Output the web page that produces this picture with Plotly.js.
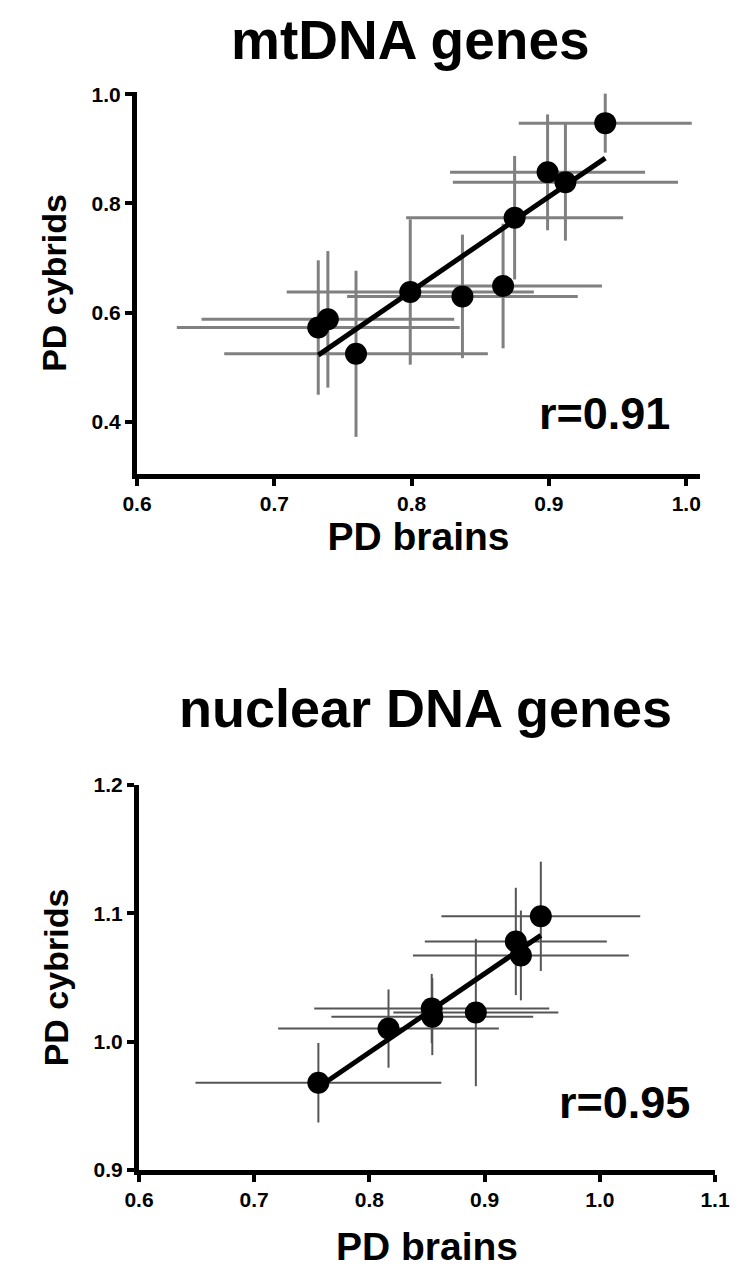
<!DOCTYPE html>
<html>
<head>
<meta charset="utf-8">
<script src="https://cdn.plot.ly/plotly-3.0.1.min.js"></script>
<style>html,body{margin:0;padding:0;background:#fff;}#chart{width:750px;height:1284px;}</style>
</head>
<body>
<div id="chart"></div>
<script>
// ---- mtDNA genes (top panel) ----
var mtBrains   = [0.732, 0.739, 0.7595, 0.799, 0.837, 0.8666, 0.875, 0.899, 0.912, 0.941];
var mtCybrids  = [0.573, 0.588, 0.525, 0.638, 0.630, 0.649, 0.774, 0.857, 0.839, 0.947];
var mtBrainsErr  = [0.103, 0.092, 0.096, 0.090, 0.084, 0.072, 0.079, 0.071, 0.082, 0.063];
var mtCybridsErr = [0.123, 0.125, 0.152, 0.133, 0.113, 0.114, 0.113, 0.106, 0.107, 0.054];
var mtR = "r=0.91";

// ---- nuclear DNA genes (bottom panel) ----
var nuBrains   = [0.7557, 0.8166, 0.8541, 0.8546, 0.8924, 0.9271, 0.9315, 0.9488];
var nuCybrids  = [0.968, 1.0102, 1.0258, 1.0195, 1.0227, 1.0781, 1.0672, 1.0977];
var nuBrainsErr  = [0.1067, 0.0958, 0.102, 0.0876, 0.0716, 0.079, 0.0937, 0.0863];
var nuCybridsErr = [0.031, 0.0305, 0.027, 0.030, 0.0574, 0.0418, 0.035, 0.0426];
var nuR = "r=0.95";

var topTicksX = [0.6, 0.7, 0.8, 0.9, 1.0];
var topTicksY = [0.4, 0.6, 0.8, 1.0];
var botTicksX = [0.6, 0.7, 0.8, 0.9, 1.0, 1.1];
var botTicksY = [0.9, 1.0, 1.1, 1.2];

function fitLine(xs, ys) {
  var n = xs.length, mx = 0, my = 0;
  for (var i = 0; i < n; i++) { mx += xs[i]; my += ys[i]; }
  mx /= n; my /= n;
  var sxy = 0, sxx = 0;
  for (var j = 0; j < n; j++) { sxy += (xs[j]-mx)*(ys[j]-my); sxx += (xs[j]-mx)*(xs[j]-mx); }
  var b = sxy / sxx, a = my - b*mx;
  var x0 = Math.min.apply(null, xs), x1 = Math.max.apply(null, xs);
  return {x: [x0, x1], y: [a + b*x0, a + b*x1]};
}
function fmt(v){ return '<b>' + v.toFixed(1) + '</b>'; }

var FONT = "Liberation Sans, Arial, Helvetica, sans-serif";
var mtFit = fitLine(mtBrains, mtCybrids);
var nuFit = fitLine(nuBrains, nuCybrids);

var traces = [
  {x: mtBrains, y: mtCybrids, xaxis: 'x', yaxis: 'y', type: 'scatter', mode: 'markers',
   marker: {color: '#000', size: 22},
   error_x: {type: 'data', array: mtBrainsErr, visible: true, color: '#808080', thickness: 3, width: 0},
   error_y: {type: 'data', array: mtCybridsErr, visible: true, color: '#808080', thickness: 3, width: 0},
   hoverinfo: 'x+y', showlegend: false},
  {x: mtFit.x, y: mtFit.y, xaxis: 'x', yaxis: 'y', type: 'scatter', mode: 'lines',
   line: {color: '#000', width: 5}, showlegend: false, hoverinfo: 'skip'},
  {x: nuBrains, y: nuCybrids, xaxis: 'x2', yaxis: 'y2', type: 'scatter', mode: 'markers',
   marker: {color: '#000', size: 22},
   error_x: {type: 'data', array: nuBrainsErr, visible: true, color: '#555', thickness: 2, width: 0},
   error_y: {type: 'data', array: nuCybridsErr, visible: true, color: '#555', thickness: 2, width: 0},
   hoverinfo: 'x+y', showlegend: false},
  {x: nuFit.x, y: nuFit.y, xaxis: 'x2', yaxis: 'y2', type: 'scatter', mode: 'lines',
   line: {color: '#000', width: 5}, showlegend: false, hoverinfo: 'skip'}
];

function axis(extra) {
  var base = {
    showline: true, linecolor: '#000', linewidth: 5, mirror: false,
    showgrid: false, zeroline: false, ticks: 'outside', ticklen: 7, tickwidth: 4, tickcolor: '#000',
    tickfont: {family: FONT, size: 21, color: '#000'},
    fixedrange: true
  };
  for (var k in extra) base[k] = extra[k];
  return base;
}
var XTFONT = {family: FONT, size: 39, color: '#000'};
var YTFONT = {family: FONT, size: 34, color: '#000'};

var layout = {
  width: 750, height: 1284,
  margin: {l: 0, r: 0, t: 0, b: 0},
  paper_bgcolor: '#fff', plot_bgcolor: '#fff',
  showlegend: false,
  xaxis: axis({domain: [137/750, 700/750], range: [0.6, 1.01], anchor: 'y',
    tickvals: topTicksX, ticktext: topTicksX.map(fmt),
    title: {text: '<b>PD brains</b>', font: XTFONT, standoff: 0}}),
  yaxis: axis({domain: [1-474/1284, 1-92/1284], range: [0.305, 1.004], anchor: 'x',
    tickvals: topTicksY, ticktext: topTicksY.map(fmt),
    title: {text: '<b>PD cybrids</b>', font: YTFONT, standoff: 16}}),
  xaxis2: axis({domain: [139/750, 715/750], range: [0.6, 1.1], anchor: 'y2',
    tickvals: botTicksX, ticktext: botTicksX.map(fmt),
    title: {text: '<b>PD brains</b>', font: XTFONT, standoff: 24}}),
  yaxis2: axis({domain: [1-1170/1284, 1-785/1284], range: [0.9, 1.2], anchor: 'x2',
    tickvals: botTicksY, ticktext: botTicksY.map(fmt),
    title: {text: '<b>PD cybrids</b>', font: YTFONT, standoff: 16}}),
  annotations: [
    {text: '<b>mtDNA genes</b>', xref: 'paper', yref: 'paper', x: 410/750, y: 1-40/1284,
     xanchor: 'center', yanchor: 'middle', showarrow: false, font: {family: FONT, size: 55, color: '#000'}},
    {text: '<b>nuclear DNA genes</b>', xref: 'paper', yref: 'paper', x: 425/750, y: 1-708/1284,
     xanchor: 'center', yanchor: 'middle', showarrow: false, font: {family: FONT, size: 54, color: '#000'}},
    {text: '<b>' + mtR + '</b>', xref: 'paper', yref: 'paper', x: 604/750, y: 1-413/1284,
     xanchor: 'center', yanchor: 'middle', showarrow: false, font: {family: FONT, size: 45, color: '#000'}},
    {text: '<b>' + nuR + '</b>', xref: 'paper', yref: 'paper', x: 624/750, y: 1-1102/1284,
     xanchor: 'center', yanchor: 'middle', showarrow: false, font: {family: FONT, size: 45, color: '#000'}}
  ]
};

Plotly.newPlot('chart', traces, layout, {staticPlot: true, displayModeBar: false});
</script>
</body>
</html>
